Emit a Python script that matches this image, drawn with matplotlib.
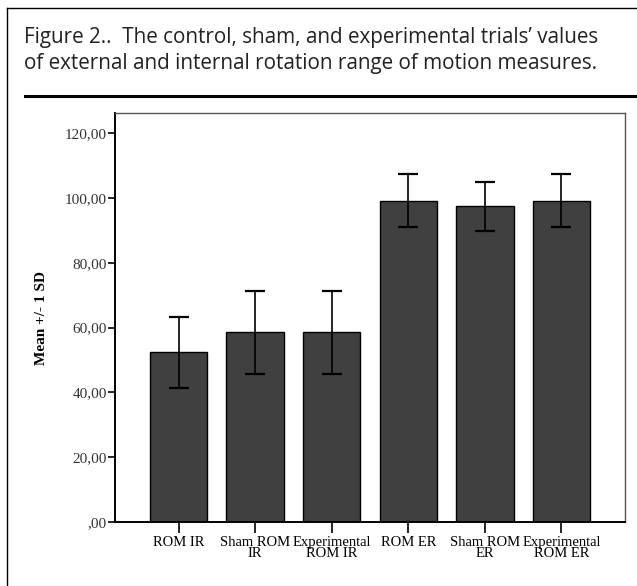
"""Bar chart of range-of-motion means with +/- 1 SD error bars (Figure 2)."""

import matplotlib

matplotlib.use("Agg")
import matplotlib.pyplot as plt
from matplotlib.lines import Line2D
from matplotlib.ticker import FuncFormatter

categories = ["ROM IR", "Sham ROM\nIR", "Experimental\nROM IR",
              "ROM ER", "Sham ROM\nER", "Experimental\nROM ER"]
means = [52.4, 58.5, 58.5, 99.1, 97.4, 99.1]
sds = [10.9, 12.9, 12.9, 8.2, 7.5, 8.2]
y_ticks = [0, 20, 40, 60, 80, 100, 120]
title_lines = ["Figure 2..  The control, sham, and experimental trials\u2019 values",
               "of external and internal rotation range of motion measures."]

W, H = 637, 586
fig = plt.figure(figsize=(W / 100, H / 100), dpi=100)

# outer box (open on the right) and the rule under the caption
fig.add_artist(Line2D([7 / W, 7 / W], [0, 1 - 8 / H], transform=fig.transFigure,
                      color="black", lw=1.0))
fig.add_artist(Line2D([7 / W, 1], [1 - 8 / H, 1 - 8 / H], transform=fig.transFigure,
                      color="black", lw=1.0))
fig.add_artist(Line2D([25 / W, 1], [1 - 96 / H, 1 - 96 / H], transform=fig.transFigure,
                      color="black", lw=2.2))

fig.text(24 / W, 1 - 38 / H, title_lines[0], fontsize=14.9, family="Open Sans",
         color="#222222", va="center", ha="left")
fig.text(24 / W, 1 - 63 / H, title_lines[1], fontsize=14.9, family="Open Sans",
         color="#222222", va="center", ha="left")

ax = fig.add_axes([115 / W, 1 - 522 / H, (625 - 115) / W, (522 - 113) / H])
x = list(range(len(categories)))
ax.bar(x, means, width=0.75, color="#404040", edgecolor="black", linewidth=1.0, zorder=2)
ax.errorbar(x, means, yerr=sds, fmt="none", ecolor="black", elinewidth=1.2,
            capsize=7, capthick=1.6, zorder=3)

ax.set_xlim(-0.83, 5.83)
ax.set_ylim(0, 126.2)
ax.set_yticks(y_ticks)
ax.yaxis.set_major_formatter(FuncFormatter(
    lambda v, _: ",00" if v == 0 else f"{int(v)},00"))
ax.set_xticks(x)
ax.set_xticklabels(categories, family="Liberation Serif", fontsize=10.5,
                   linespacing=0.85)
for lab in ax.get_yticklabels():
    lab.set_family("Liberation Serif")
    lab.set_fontsize(11)
    lab.set_color("#333333")
ax.tick_params(axis="y", direction="out", length=5, width=1.2, pad=1)
ax.tick_params(axis="x", direction="out", length=8, width=1.2, pad=2)

ax.set_ylabel("Mean +/- 1 SD", family="Liberation Serif", fontweight="bold",
              fontsize=11, labelpad=12)
for side in ("left", "bottom"):
    ax.spines[side].set_linewidth(1.4)
    ax.spines[side].set_color("black")
for side in ("top", "right"):
    ax.spines[side].set_linewidth(1.0)
    ax.spines[side].set_color("#555555")

fig.savefig("out.png", dpi=100)
